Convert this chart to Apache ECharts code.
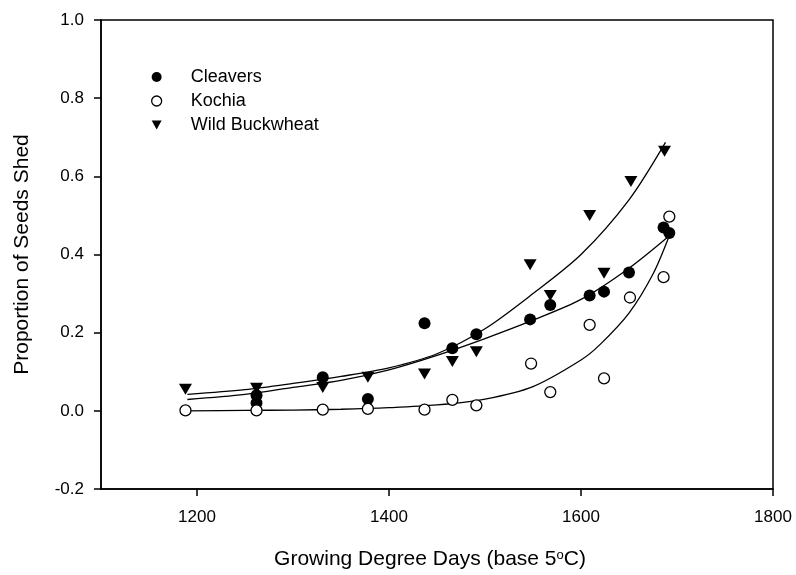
<!DOCTYPE html>
<html>
<head>
<meta charset="utf-8">
<script src="https://cdn.jsdelivr.net/npm/echarts@6/dist/echarts.min.js"></script>
<style>
  html, body { margin: 0; padding: 0; background: #fff; }
  #chart { width: 796px; height: 575px; }
</style>
</head>
<body>
<div id="chart"></div>
<script>
// observed points
const cleaversX = [1262, 1262, 1331, 1378, 1437, 1466, 1491, 1547, 1568, 1609, 1624, 1650, 1686, 1692];
const cleaversY = [0.04, 0.02, 0.086, 0.03, 0.224, 0.16, 0.196, 0.234, 0.271, 0.295, 0.305, 0.354, 0.469, 0.455];

const kochiaX = [1188, 1262, 1331, 1378, 1437, 1466, 1491, 1548, 1568, 1609, 1624, 1651, 1686, 1692];
const kochiaY = [0.001, 0.001, 0.003, 0.005, 0.003, 0.028, 0.014, 0.121, 0.048, 0.22, 0.083, 0.29, 0.342, 0.497];

const buckX = [1188, 1262, 1331, 1378, 1437, 1466, 1491, 1547, 1568, 1609, 1624, 1652, 1687];
const buckY = [0.055, 0.058, 0.06, 0.086, 0.094, 0.126, 0.151, 0.374, 0.295, 0.5, 0.352, 0.587, 0.664];

// fitted curves
const cleaversFitX = [1190, 1250, 1300, 1350, 1400, 1450, 1500, 1550, 1600, 1650, 1692];
const cleaversFitY = [0.029, 0.042, 0.06, 0.078, 0.105, 0.142, 0.185, 0.232, 0.285, 0.365, 0.448];

const kochiaFitX = [1190, 1250, 1300, 1350, 1400, 1450, 1500, 1550, 1600, 1620, 1650, 1675, 1692];
const kochiaFitY = [0.0, 0.001, 0.002, 0.004, 0.008, 0.015, 0.03, 0.062, 0.13, 0.17, 0.25, 0.35, 0.448];

const buckFitX = [1190, 1250, 1300, 1350, 1400, 1450, 1500, 1550, 1600, 1650, 1688];
const buckFitY = [0.042, 0.054, 0.07, 0.088, 0.11, 0.146, 0.21, 0.3, 0.4, 0.54, 0.687];

const xTicks = [1200, 1400, 1600, 1800];

const font = '"Liberation Sans", Arial, sans-serif';

function pairs(xs, ys) {
  return xs.map((x, i) => [x, ys[i]]);
}

function fitLine(xs, ys) {
  return {
    type: 'line',
    data: pairs(xs, ys),
    smooth: 0.3,
    showSymbol: false,
    silent: true,
    lineStyle: { color: '#000', width: 1.3 },
    z: 1
  };
}

const chart = echarts.init(document.getElementById('chart'), null, { renderer: 'canvas' });

chart.setOption({
  backgroundColor: '#fff',
  animation: false,
  grid: {
    left: 101, right: 23, top: 20, bottom: 86,
    show: true, borderColor: '#000', borderWidth: 1.5
  },
  legend: {
    data: [
      { name: 'Cleavers', icon: 'circle' },
      { name: 'Kochia', icon: 'circle', itemStyle: { color: '#fff', borderColor: '#000', borderWidth: 1.3 } },
      { name: 'Wild Buckwheat', icon: 'path://M0,0 L10,0 L5,9 Z' }
    ],
    orient: 'vertical',
    left: 146,
    top: 63,
    itemWidth: 10,
    itemHeight: 10,
    itemGap: 6,
    textStyle: { fontFamily: font, fontSize: 18, color: '#000', padding: [0, 0, 0, 24], lineHeight: 18 }
  },
  xAxis: {
    type: 'value',
    min: 1100,
    max: 1800,
    name: 'Growing Degree Days (base 5{sup|o}C)',
    nameLocation: 'middle',
    nameGap: 60,
    nameTextStyle: {
      fontFamily: font, fontSize: 21, color: '#000', padding: [0, 14, 0, 0],
      rich: { sup: { fontFamily: font, fontSize: 13, color: '#000', verticalAlign: 'top', padding: [0, 0, 8, 0] } }
    },
    axisLine: { onZero: false, lineStyle: { color: '#000', width: 1.5 } },
    axisTick: { length: 7, lineStyle: { color: '#000', width: 1.5 }, customValues: xTicks },
    axisLabel: {
      customValues: xTicks, fontFamily: font, fontSize: 17, color: '#000', margin: 20,
      formatter: v => String(v)
    },
    splitLine: { show: false }
  },
  yAxis: {
    type: 'value',
    min: -0.2,
    max: 1.0,
    interval: 0.2,
    name: 'Proportion of Seeds Shed',
    nameLocation: 'middle',
    nameGap: 68,
    nameTextStyle: { fontFamily: font, fontSize: 21, color: '#000' },
    axisLine: { onZero: false, lineStyle: { color: '#000', width: 1.5 } },
    axisTick: { length: 7, lineStyle: { color: '#000', width: 1.5 } },
    axisLabel: {
      fontFamily: font, fontSize: 17, color: '#000', margin: 17,
      formatter: v => v.toFixed(1)
    },
    splitLine: { show: false }
  },
  series: [
    fitLine(cleaversFitX, cleaversFitY),
    fitLine(kochiaFitX, kochiaFitY),
    fitLine(buckFitX, buckFitY),
    {
      name: 'Cleavers',
      type: 'scatter',
      data: pairs(cleaversX, cleaversY),
      symbol: 'circle',
      symbolSize: 12,
      itemStyle: { color: '#000', opacity: 1 },
      z: 3
    },
    {
      name: 'Kochia',
      type: 'scatter',
      data: pairs(kochiaX, kochiaY),
      symbol: 'circle',
      symbolSize: 11,
      itemStyle: { color: '#fff', borderColor: '#000', borderWidth: 1.3, opacity: 1 },
      z: 3
    },
    {
      name: 'Wild Buckwheat',
      type: 'scatter',
      data: pairs(buckX, buckY),
      symbol: 'triangle',
      symbolRotate: 180,
      symbolSize: [13, 11],
      itemStyle: { color: '#000', opacity: 1 },
      z: 3
    }
  ]
});
</script>
</body>
</html>
